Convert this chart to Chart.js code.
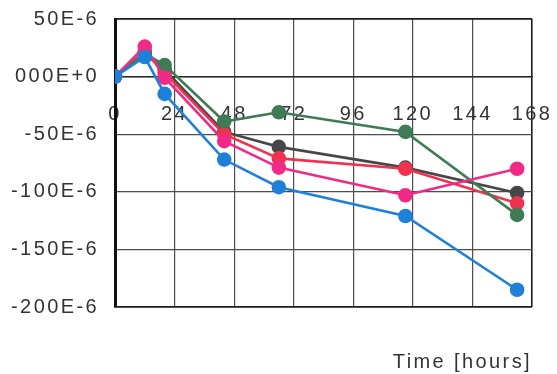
<!DOCTYPE html>
<html>
<head>
<meta charset="utf-8">
<script src="https://cdn.jsdelivr.net/npm/chart.js@4/dist/chart.umd.min.js"></script>
<style>
  html, body { margin: 0; padding: 0; background: #ffffff; }
  #wrap { width: 557px; height: 374px; }
</style>
</head>
<body>
<div id="wrap"><canvas id="c" width="557" height="374"></canvas></div>
<script>
// Sampling times (hours)
const hours = [0, 12, 20, 44, 66, 117, 162];

// Strain readings, in units of 1E-6
const blueSeries  = [0, 17, -15, -72, -96, -121, -185];
const greenSeries = [0, 20, 10, -39, -31, -48, -120];
const graySeries  = [0, 20, 6, -48, -61, -79, -101];
const redSeries   = [0, 22, 3, -50, -71, -80, -110];
const pinkSeries  = [0, 26, -1, -56, -79, -103, -80];

// Axis ticks
const xTicks = [0, 24, 48, 72, 96, 120, 144, 168];
const yTickValues = [50, 0, -50, -100, -150, -200];
const yTickLabels = ['50E-6', '000E+0', '-50E-6', '-100E-6', '-150E-6', '-200E-6'];

const FONT = "'Liberation Sans', Arial, Helvetica, sans-serif";
const TEXT = '#333333';
const GRID = '#4d4d4d';
const FRAME = '#1c1c1c';

const pts = arr => hours.map((h, i) => ({ x: h, y: arr[i] }));

function series(data, color) {
  return {
    data: pts(data),
    borderColor: color,
    backgroundColor: color,
    pointBackgroundColor: color,
    pointBorderColor: color,
    borderWidth: 2.6,
    pointRadius: 6,
    pointHoverRadius: 6,
    tension: 0
  };
}

// Outer frame lines are drawn darker than the inner grid
const isEdge = (ctx, lo, hi) => ctx.tick && (ctx.tick.value === lo || ctx.tick.value === hi);

// Wide, slightly spaced lettering for all labels
const spacing = {
  id: 'spacing',
  beforeUpdate(chart) { chart.ctx.letterSpacing = '2.4px'; },
  beforeDraw(chart) { chart.ctx.letterSpacing = '2.4px'; }
};

new Chart(document.getElementById('c'), {
  type: 'line',
  data: {
    datasets: [
      series(blueSeries, '#1e80d8'),
      series(pinkSeries, '#f02b86'),
      series(greenSeries, '#3f7b55'),
      series(redSeries, '#f1324f'),
      series(graySeries, '#474747')
    ]
  },
  options: {
    responsive: false,
    animation: false,
    layout: { padding: { left: 0, right: 25, top: 19, bottom: 0 } },
    plugins: {
      legend: { display: false },
      tooltip: { enabled: false }
    },
    scales: {
      x: {
        type: 'linear',
        position: { y: 0 },
        min: 0,
        max: 168,
        afterBuildTicks: s => { s.ticks = xTicks.map(v => ({ value: v })); },
        afterFit: s => { s.paddingLeft = 0; s.paddingRight = 0; s.paddingTop = 0; s.paddingBottom = 0; },
        ticks: {
          padding: 26,
          color: TEXT,
          font: { family: FONT, size: 20 },
          maxRotation: 0,
          autoSkip: false
        },
        grid: {
          color: c => isEdge(c, 0, 168) ? FRAME : GRID,
          lineWidth: c => isEdge(c, 0, 168) ? 1.6 : 1.2,
          drawTicks: false
        },
        border: { color: '#2a2a2a', width: 1.6 }
      },
      xt: {
        type: 'linear',
        position: 'bottom',
        min: 0,
        max: 1,
        ticks: { display: false },
        grid: { display: false, drawTicks: false },
        border: { display: false },
        title: {
          display: true,
          text: 'Time [hours]',
          align: 'end',
          color: TEXT,
          font: { family: FONT, size: 20, lineHeight: 1.2 },
          padding: { top: 43, bottom: 0 }
        }
      },
      y: {
        type: 'linear',
        position: 'left',
        min: -200,
        max: 50,
        afterBuildTicks: s => { s.ticks = yTickValues.map(v => ({ value: v })); },
        afterFit: s => { s.width = 115; s.paddingTop = 0; s.paddingBottom = 0; },
        ticks: {
          padding: 16,
          color: TEXT,
          font: { family: FONT, size: 20 },
          callback: v => yTickLabels[yTickValues.indexOf(v)]
        },
        grid: {
          color: c => isEdge(c, -200, 50) ? FRAME : GRID,
          lineWidth: c => isEdge(c, -200, 50) ? 1.8 : 1.2,
          drawTicks: false
        },
        border: { color: '#111111', width: 3 }
      }
    }
  },
  plugins: [spacing]
});
</script>
</body>
</html>
